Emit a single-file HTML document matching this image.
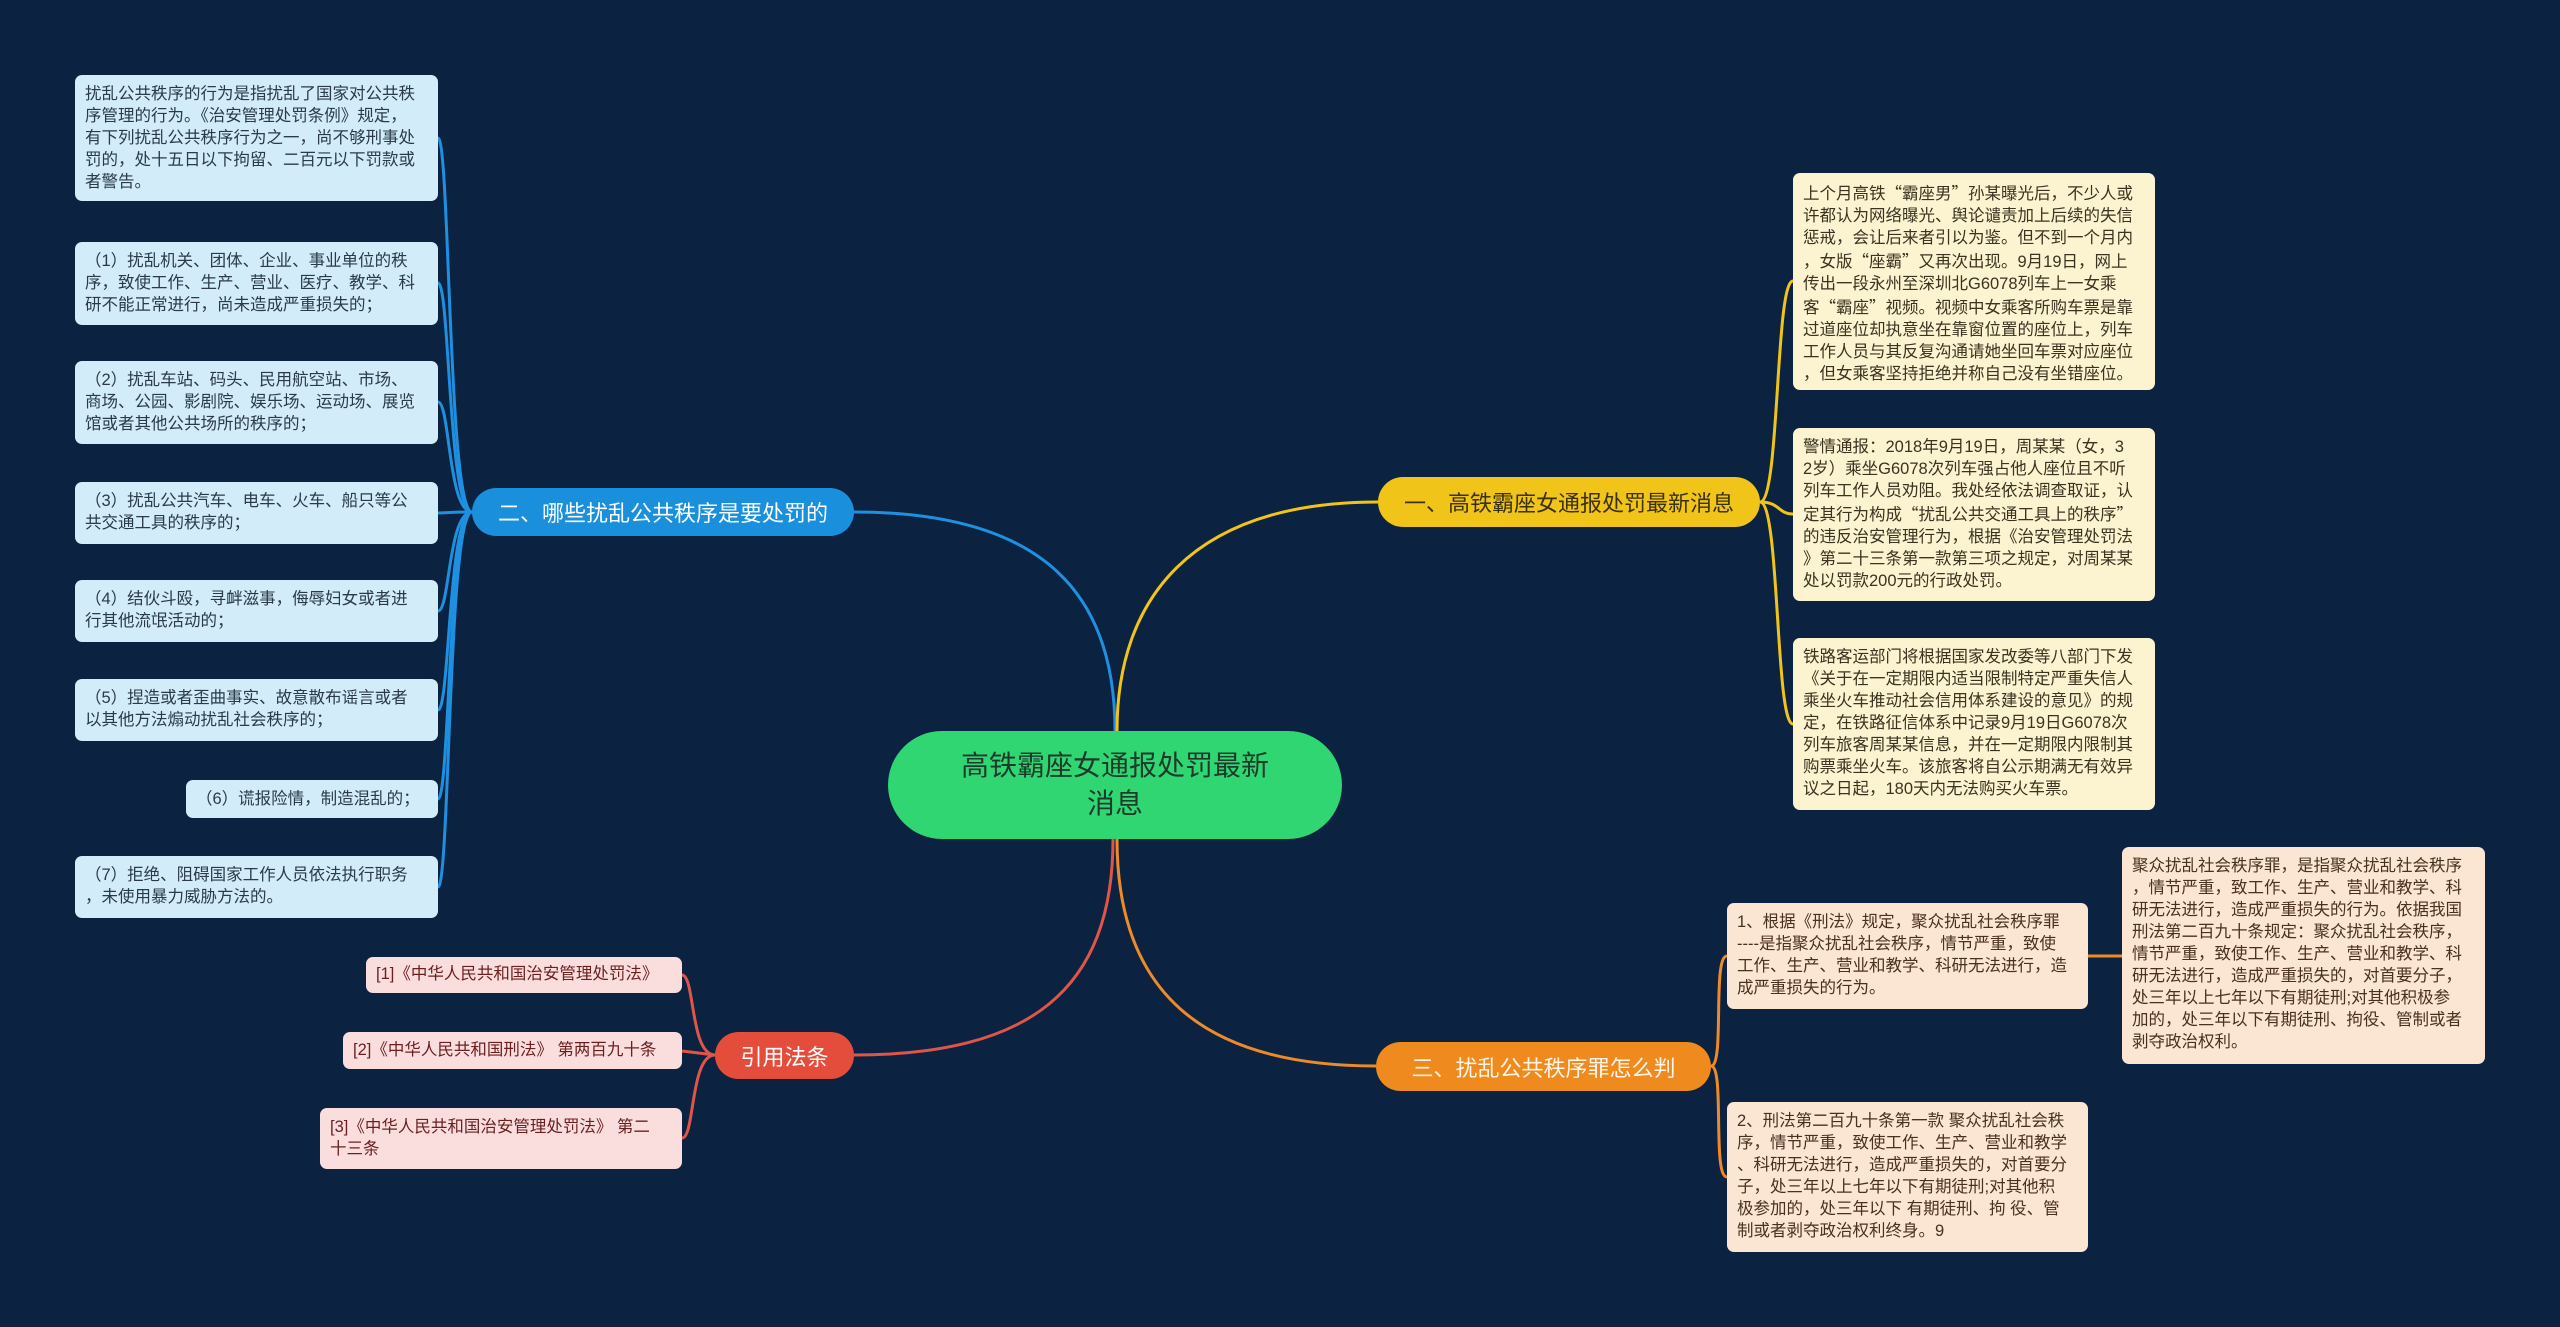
<!DOCTYPE html>
<html><head><meta charset="utf-8"><style>
*{margin:0;padding:0;box-sizing:border-box}
body{width:2560px;height:1327px;background:#0b2240;position:relative;overflow:hidden;font-family:"Liberation Sans","Noto Sans CJK SC",sans-serif}
.b{position:absolute;border-radius:7px;font-size:16.5px;line-height:22px;padding:8px 10px;white-space:nowrap;color:#333}
.l{background:#d3ecf9;color:#2a3a48}
.y{background:#fcf3d1;color:#3a3320}
.p{background:#fbe5d3;color:#4a3020}
.r{background:#f9dedd;color:#6b1f1f}
.q{font-family:"Noto Sans CJK SC",sans-serif}
.n{position:absolute;border-radius:26px;display:flex;align-items:center;justify-content:center;font-size:22px;white-space:nowrap}
svg{position:absolute;left:0;top:0}
</style></head><body>
<svg width="2560" height="1327" fill="none" stroke-width="3">
<g stroke="#1e90e0">
<path d="M1115 731 C1115 600 1050 512 854 512"/>
<path d="M472 512 C448 512 450 138 438 138"/>
<path d="M472 512 C448 512 450 283 438 283"/>
<path d="M472 512 C448 512 450 402 438 402"/>
<path d="M472 512 C448 512 448 513 438 513"/>
<path d="M472 512 C448 512 450 611 438 611"/>
<path d="M472 512 C448 512 450 710 438 710"/>
<path d="M472 512 C448 512 450 799 438 799"/>
<path d="M472 512 C448 512 450 887 438 887"/>
</g>
<g stroke="#f0c419">
<path d="M1117 731 C1117 600 1190 502 1378 502"/>
<path d="M1760 502 C1780 502 1775 281 1793 281"/>
<path d="M1760 502 C1780 502 1778 514 1793 514"/>
<path d="M1760 502 C1780 502 1775 724 1793 724"/>
</g>
<g stroke="#ee8a2a">
<path d="M1117 839 C1117 990 1200 1066 1376 1066"/>
<path d="M1711 1066 C1725 1066 1712 956 1727 956"/>
<path d="M1711 1066 C1725 1066 1712 1177 1727 1177"/>
<path d="M2088 956 L2122 956"/>
</g>
<g stroke="#e0554a">
<path d="M1113 839 C1113 990 1030 1055 854 1055"/>
<path d="M715 1055 C690 1055 695 975 682 975"/>
<path d="M715 1055 L682 1051"/>
<path d="M715 1055 C690 1055 695 1138 682 1138"/>
</g>
</svg>

<div class="b l" style="left:75px;top:75px;width:363px;height:126px">扰乱公共秩序的行为是指扰乱了国家对公共秩<br>序管理的行为。《治安管理处罚条例》规定，<br>有下列扰乱公共秩序行为之一，尚不够刑事处<br>罚的，处十五日以下拘留、二百元以下罚款或<br>者警告。</div>
<div class="b l" style="left:75px;top:242px;width:363px;height:83px">（1）扰乱机关、团体、企业、事业单位的秩<br>序，致使工作、生产、营业、医疗、教学、科<br>研不能正常进行，尚未造成严重损失的；</div>
<div class="b l" style="left:75px;top:361px;width:363px;height:83px">（2）扰乱车站、码头、民用航空站、市场、<br>商场、公园、影剧院、娱乐场、运动场、展览<br>馆或者其他公共场所的秩序的；</div>
<div class="b l" style="left:75px;top:482px;width:363px;height:62px">（3）扰乱公共汽车、电车、火车、船只等公<br>共交通工具的秩序的；</div>
<div class="b l" style="left:75px;top:580px;width:363px;height:62px">（4）结伙斗殴，寻衅滋事，侮辱妇女或者进<br>行其他流氓活动的；</div>
<div class="b l" style="left:75px;top:679px;width:363px;height:62px">（5）捏造或者歪曲事实、故意散布谣言或者<br>以其他方法煽动扰乱社会秩序的；</div>
<div class="b l" style="left:186px;top:780px;width:252px;height:38px">（6）谎报险情，制造混乱的；</div>
<div class="b l" style="left:75px;top:856px;width:363px;height:62px">（7）拒绝、阻碍国家工作人员依法执行职务<br>，未使用暴力威胁方法的。</div>

<div class="n" style="left:472px;top:488px;width:382px;height:48px;background:#1a8fdc;color:#fff">二、哪些扰乱公共秩序是要处罚的</div>
<div class="n" style="left:888px;top:731px;width:454px;height:108px;border-radius:54px;background:#2fd672;color:#1d3a2a;font-size:28px;line-height:38px;text-align:center">高铁霸座女通报处罚最新<br>消息</div>
<div class="n" style="left:1378px;top:477px;width:382px;height:50px;background:#f0c419;color:#3a3010">一、高铁霸座女通报处罚最新消息</div>
<div class="n" style="left:1376px;top:1042px;width:335px;height:49px;background:#ef8a1e;color:#fff6e8">三、扰乱公共秩序罪怎么判</div>
<div class="n" style="left:715px;top:1032px;width:139px;height:47px;background:#e44d3c;color:#fff">引用法条</div>

<div class="b y" style="left:1793px;top:173px;width:362px;height:217px">上个月高铁<span class="q">“</span>霸座男<span class="q">”</span>孙某曝光后，不少人或<br>许都认为网络曝光、舆论谴责加上后续的失信<br>惩戒，会让后来者引以为鉴。但不到一个月内<br>，女版<span class="q">“</span>座霸<span class="q">”</span>又再次出现。9月19日，网上<br>传出一段永州至深圳北G6078列车上一女乘<br>客<span class="q">“</span>霸座<span class="q">”</span>视频。视频中女乘客所购车票是靠<br>过道座位却执意坐在靠窗位置的座位上，列车<br>工作人员与其反复沟通请她坐回车票对应座位<br>，但女乘客坚持拒绝并称自己没有坐错座位。</div>
<div class="b y" style="left:1793px;top:428px;width:362px;height:173px">警情通报：2018年9月19日，周某某（女，3<br>2岁）乘坐G6078次列车强占他人座位且不听<br>列车工作人员劝阻。我处经依法调查取证，认<br>定其行为构成<span class="q">“</span>扰乱公共交通工具上的秩序<span class="q">”</span><br>的违反治安管理行为，根据《治安管理处罚法<br>》第二十三条第一款第三项之规定，对周某某<br>处以罚款200元的行政处罚。</div>
<div class="b y" style="left:1793px;top:638px;width:362px;height:172px">铁路客运部门将根据国家发改委等八部门下发<br>《关于在一定期限内适当限制特定严重失信人<br>乘坐火车推动社会信用体系建设的意见》的规<br>定，在铁路征信体系中记录9月19日G6078次<br>列车旅客周某某信息，并在一定期限内限制其<br>购票乘坐火车。该旅客将自公示期满无有效异<br>议之日起，180天内无法购买火车票。</div>

<div class="b p" style="left:1727px;top:903px;width:361px;height:106px">1、根据《刑法》规定，聚众扰乱社会秩序罪<br>----是指聚众扰乱社会秩序，情节严重，致使<br>工作、生产、营业和教学、科研无法进行，造<br>成严重损失的行为。</div>
<div class="b p" style="left:1727px;top:1102px;width:361px;height:150px">2、刑法第二百九十条第一款 聚众扰乱社会秩<br>序，情节严重，致使工作、生产、营业和教学<br>、科研无法进行，造成严重损失的，对首要分<br>子，处三年以上七年以下有期徒刑;对其他积<br>极参加的，处三年以下 有期徒刑、拘 役、管<br>制或者剥夺政治权利终身。9</div>
<div class="b p" style="left:2122px;top:847px;width:363px;height:217px">聚众扰乱社会秩序罪，是指聚众扰乱社会秩序<br>，情节严重，致工作、生产、营业和教学、科<br>研无法进行，造成严重损失的行为。依据我国<br>刑法第二百九十条规定：聚众扰乱社会秩序，<br>情节严重，致使工作、生产、营业和教学、科<br>研无法进行，造成严重损失的，对首要分子，<br>处三年以上七年以下有期徒刑;对其他积极参<br>加的，处三年以下有期徒刑、拘役、管制或者<br>剥夺政治权利。</div>

<div class="b r" style="left:366px;top:957px;width:316px;height:36px;padding-top:6px">[1]《中华人民共和国治安管理处罚法》</div>
<div class="b r" style="left:343px;top:1032px;width:339px;height:37px;padding-top:7px">[2]《中华人民共和国刑法》 第两百九十条</div>
<div class="b r" style="left:320px;top:1108px;width:362px;height:61px">[3]《中华人民共和国治安管理处罚法》 第二<br>十三条</div>
</body></html>
